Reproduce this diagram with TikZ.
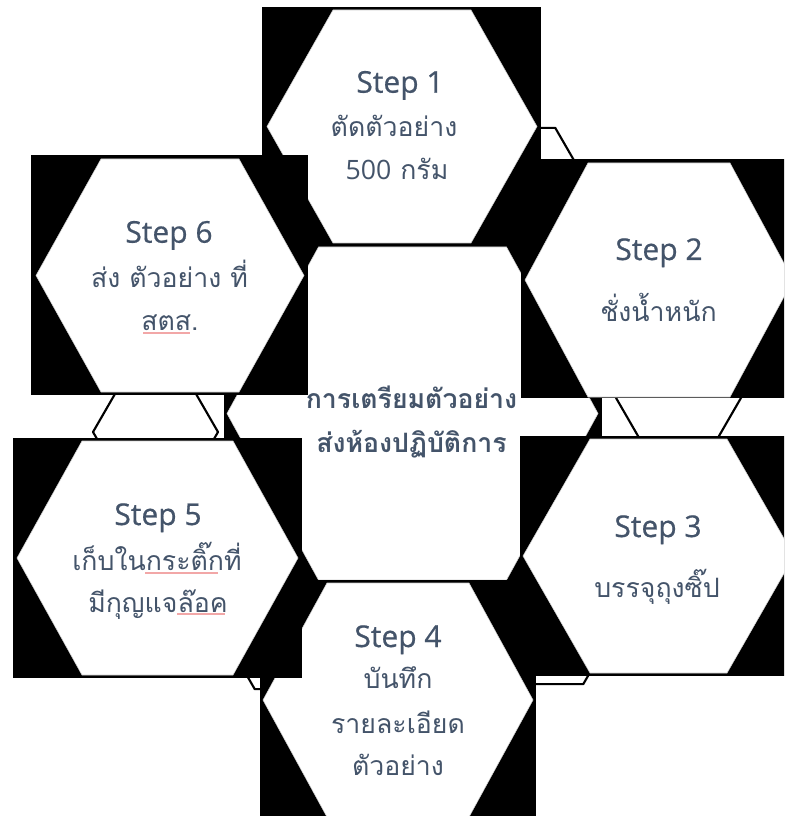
\documentclass[tikz,border=0pt]{standalone}
\usepackage{fontspec}
\setmainfont{Open Sans}
\newfontfamily\stepfont[FakeBold=0.6]{Open Sans}
\newfontfamily\thaifont[Script=Thai]{Loma}
\definecolor{txt}{HTML}{44546A}
\definecolor{squig}{HTML}{F2A7A7}
% #1 style, #2 cx, #3 cy, #4 half width, #5 half top edge, #6 half height
\newcommand{\hexcell}[6]{\path[#1] (#2-#4,#3) -- (#2-#5,#3-#6) -- (#2+#5,#3-#6) -- (#2+#4,#3) -- (#2+#5,#3+#6) -- (#2-#5,#3+#6) -- cycle;}
% regular small hexagon: #1 cx, #2 cy, #3 R
\newcommand{\linkhex}[3]{\path[conn] (#1-#3,#2) -- (#1-#3/2,#2-0.866*#3) -- (#1+#3/2,#2-0.866*#3) -- (#1+#3,#2) -- (#1+#3/2,#2+0.866*#3) -- (#1-#3/2,#2+0.866*#3) -- cycle;}
\begin{document}
\begin{tikzpicture}[x=0.75pt,y=-0.75pt,
  blk/.style={fill=black},
  hexw/.style={fill=white, draw=gray!40, line width=0.4pt},
  conn/.style={fill=white, draw=black, line width=1.6pt, line join=round},
  steplbl/.style={anchor=base, text=txt, font=\stepfont\fontsize{22.5}{26}\selectfont, inner sep=0pt},
  thailbl/.style={anchor=base, text=txt, font=\thaifont\fontsize{20}{24}\selectfont, inner sep=0pt},
  centlbl/.style={anchor=base, text=txt, font=\thaifont\bfseries\fontsize{20}{24}\selectfont, inner sep=0pt},
  squiggle/.style={draw=squig, line width=0.9pt}]
\useasboundingbox (0,0) rectangle (784,816);
\fill[white] (0,0) rectangle (784,816);
\clip (0,0) rectangle (784,816);
% small linking hexagons (mostly hidden)
\linkhex{524}{182}{62.5}
\linkhex{155.5}{432}{62.5}
\linkhex{678.5}{397}{63}
\linkhex{552}{630}{62.5}
\linkhex{286}{635}{62.5}
% centre
\fill[blk] (224,244) rectangle (602,583);
\hexcell{hexw}{412.5}{413.5}{185.5}{94}{166.5}
% step 1
\fill[blk] (262,7) rectangle (541,246);
\hexcell{hexw}{402}{126.5}{135}{69}{116.5}
% step 2
\fill[blk] (521,159) rectangle (800,398);
\hexcell{hexw}{659}{280}{134}{71}{117}
% step 3
\fill[blk] (520,436) rectangle (800,676);
\hexcell{hexw}{658.5}{556}{135.5}{68.5}{117}
% step 4
\fill[blk] (260,580) rectangle (536,820);
\hexcell{hexw}{398}{700}{135}{71}{117}
% step 5
\fill[blk] (13,438) rectangle (302,678);
\hexcell{hexw}{157.5}{558}{140.5}{75.5}{117}
% step 6
\fill[blk] (31,155) rectangle (308,395);
\hexcell{hexw}{170}{275.5}{134}{69}{116.5}
% texts
\node[centlbl] (c1) at (411.5,408) {การเตรียมตัวอย่าง};
\node[centlbl] (c2) at (411.5,452) {ส่งห้องปฏิบัติการ};
\node[steplbl] (s1) at (400,92.7) {Step 1};
\node[thailbl] (s1a) at (394,137) {ตัดตัวอย่าง};
\node[thailbl] (s1b) at (397,180) {{\fontspec{Open Sans}500} กรัม};
\node[steplbl] (s2) at (659,260) {Step 2};
\node[thailbl] (s2a) at (658.5,321) {ชั่งน้ำหนัก};
\node[steplbl] (s3) at (658,537) {Step 3};
\node[thailbl] (s3a) at (657,597) {บรรจุถุงซิ๊ป};
\node[steplbl] (s4) at (398,647) {Step 4};
\node[thailbl] (s4a) at (398,688) {บันทึก};
\node[thailbl] (s4b) at (398,733) {รายละเอียด};
\node[thailbl] (s4c) at (398,775) {ตัวอย่าง};
\node[steplbl] (s5) at (158,525) {Step 5};
\node[thailbl] (s5a) at (157,570) {เก็บในกระติ๊กที่};
\node[thailbl] (s5b) at (158,612) {มีกุญแจล๊อค};
\node[steplbl] (s6) at (169,242.7) {Step 6};
\node[thailbl] (s6a) at (169.5,287) {ส่ง ตัวอย่าง ที่};
\node[thailbl] (s6b) at (170,330) {สตส.};
% spell-check underlines
\draw[squiggle] (143,333) -- (190,333);
\draw[squiggle] (145,573) -- (218,573);
\draw[squiggle] (177,614) -- (225,614);
\end{tikzpicture}
\end{document}
